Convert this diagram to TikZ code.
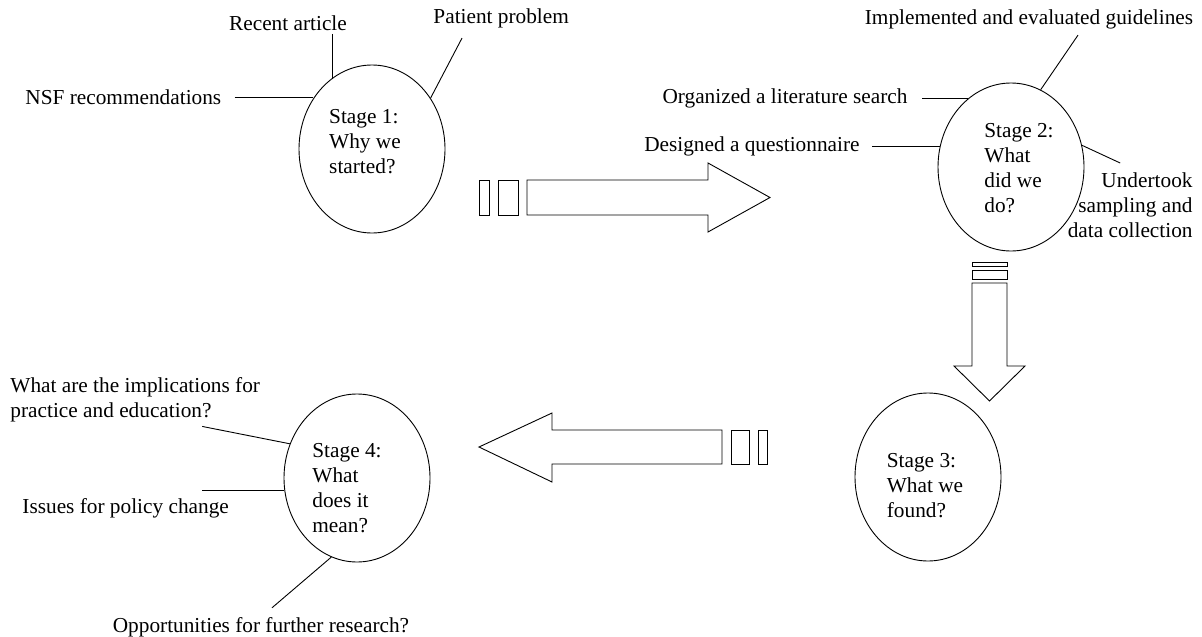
\documentclass[tikz,border=0pt]{standalone}
\usepackage{fontspec}
\setmainfont{Liberation Serif}
\usetikzlibrary{shapes.geometric}
\begin{document}
\begin{tikzpicture}[x=1pt, y=-1pt, font=\fontsize{21.3}{25}\selectfont, line width=0.9pt,
	stage/.style={ellipse, draw, minimum width=146pt, minimum height=168pt, inner sep=0pt},
	stagetext/.style={inner sep=0pt, align=left},
	tag/.style={inner sep=0pt}]
	\useasboundingbox (0,0) rectangle (1202,637);
	% stages
	\node[stage] (s1) at (372,149) {};
	\node[stage] (s2) at (1011,167) {};
	\node[stage] (s3) at (928,477) {};
	\node[stage] (s4) at (357,478) {};
	\node[stagetext] (t1) at (365,142) {Stage 1:\\Why we\\started?};
	\node[stagetext] (t2) at (1019,168) {Stage 2:\\What\\did we\\do?};
	\node[stagetext] (t3) at (925,486) {Stage 3:\\What we\\found?};
	\node[stagetext] (t4) at (347,488) {Stage 4:\\What\\does it\\mean?};
	% labels
	\node[tag, anchor=west] (nsf) at (25,97) {NSF recommendations};
	\node[tag] (recent) at (288,23) {Recent article};
	\node[tag, anchor=west] (patient) at (433,18) {Patient problem};
	\node[tag] (impl) at (1029,19) {Implemented and evaluated guidelines};
	\node[tag, anchor=east] (org) at (908,98) {Organized a literature search};
	\node[tag, anchor=east] (des) at (860,146) {Designed a questionnaire};
	\node[tag, anchor=north east, align=right] (under) at (1193,172) {Undertook\\sampling and\\data collection};
	\node[tag, anchor=north west, align=left] (imp) at (10,377) {What are the implications for\\practice and education?};
	\node[tag, anchor=west] (policy) at (22,508) {Issues for policy change};
	\node[tag] (opp) at (261,627) {Opportunities for further research?};
	% spokes
	\draw ([xshift=13pt]nsf.east) -- (nsf.east -| s1.139);
	\draw ([yshift=-3pt]s1.119 |- recent.south) -- (s1.119);
	\draw ([xshift=29pt,yshift=-10pt]patient.south west) -- (s1.41);
	\draw ([xshift=49pt,yshift=-6pt]impl.south) -- (s2.69);
	\draw ([xshift=14pt]org.east) -- (org.east -| s2.122);
	\draw ([xshift=12pt]des.east) -- (des.east -| s2.164);
	\draw ([xshift=-10pt,yshift=9pt]under.north) -- (s2.17);
	\draw ([xshift=67pt,yshift=-4pt]imp.south) -- (s4.153);
	\draw ([xshift=-27pt]s4.190 -| policy.east) -- (s4.190);
	\draw ([xshift=11pt,yshift=9pt]opp.north) -- (s4.252);
	% block arrows
	\foreach \a/\b in {479/489,498/518} \draw (\a,180) rectangle (\b,215);
	\draw (527,180) -- (708,180) -- (708,163) -- (770,197.5) -- (708,232) -- (708,215) -- (527,215) -- cycle;
	\foreach \a/\b in {262/266,270/279} \draw (972,\a) rectangle (1007,\b);
	\draw (972,283) -- (1007,283) -- (1007,366) -- (1025,366) -- (989.5,401) -- (954,366) -- (972,366) -- cycle;
	\foreach \a/\b in {758/767,731/749} \draw (\a,430) rectangle (\b,464);
	\draw (722,430) -- (552,430) -- (552,413) -- (479,447) -- (552,482) -- (552,464) -- (722,464) -- cycle;
\end{tikzpicture}
\end{document}
